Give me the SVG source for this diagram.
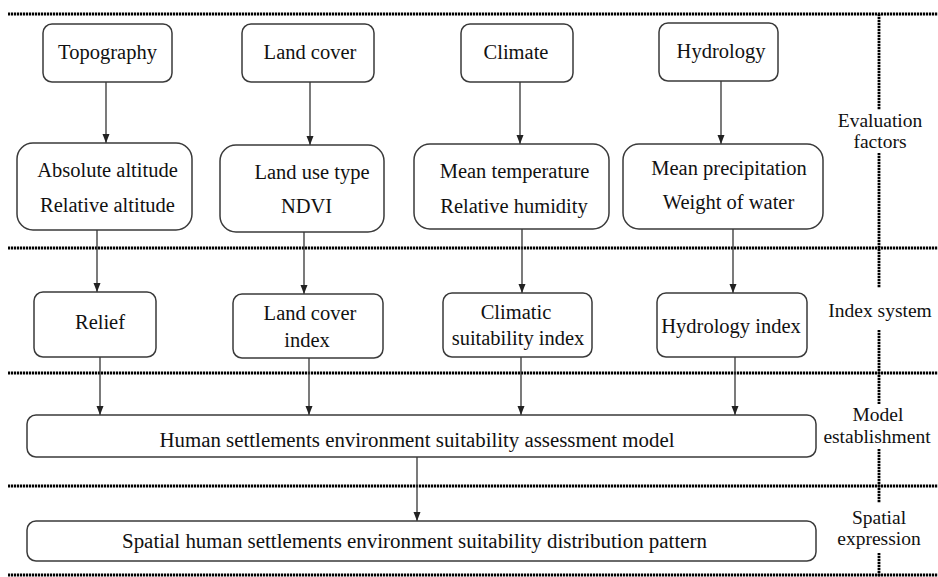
<svg xmlns="http://www.w3.org/2000/svg" width="938" height="577" viewBox="0 0 938 577" font-family="'Liberation Serif', 'Times New Roman', 'DejaVu Serif', serif">
<defs>
<marker id="ah" markerUnits="userSpaceOnUse" markerWidth="10" markerHeight="8" refX="9" refY="3.5" orient="auto">
<path d="M0,0 L9,3.5 L0,7 z" fill="#222"/>
</marker>
<style>
.box{fill:#fff;stroke:#3a3a3a;stroke-width:1.5}
.t{font-family:'Liberation Serif','Times New Roman','DejaVu Serif',serif;font-size:20.5px;fill:#111;text-anchor:middle}
.s{font-size:19.5px}
.dot{stroke:#000;stroke-width:2.8;stroke-dasharray:2.2 0.8;fill:none}
.conn{stroke:#333;stroke-width:1.3;fill:none;marker-end:url(#ah)}
</style>
</defs>
<rect width="938" height="577" fill="#fff"/>
<g id="separators">
<line class="dot" x1="8" y1="14" x2="938" y2="14"/>
<line class="dot" x1="8" y1="248" x2="938" y2="248"/>
<line class="dot" x1="8" y1="373" x2="938" y2="373"/>
<line class="dot" x1="8" y1="486" x2="938" y2="486"/>
<line class="dot" x1="8" y1="575" x2="938" y2="575"/>
<line class="dot" x1="879" y1="14" x2="879" y2="110"/>
<line class="dot" x1="879" y1="153" x2="879" y2="288"/>
<line class="dot" x1="879" y1="330" x2="879" y2="404"/>
<line class="dot" x1="879" y1="449" x2="879" y2="503"/>
<line class="dot" x1="879" y1="553" x2="879" y2="577"/>
</g>
<g id="stage-labels">
<text class="t s" x="880" y="127">Evaluation</text>
<text class="t s" x="880" y="148">factors</text>
<text class="t s" x="880" y="317">Index system</text>
<text class="t s" x="878" y="421">Model</text>
<text class="t s" x="877" y="443">establishment</text>
<text class="t s" x="879" y="524">Spatial</text>
<text class="t s" x="879" y="545">expression</text>
</g>
<g id="connectors">
<line class="conn" x1="106" y1="82" x2="106" y2="143"/>
<line class="conn" x1="310" y1="82" x2="310" y2="145"/>
<line class="conn" x1="520" y1="82" x2="520" y2="144"/>
<line class="conn" x1="721" y1="81" x2="721" y2="144"/>
<line class="conn" x1="97" y1="230" x2="97" y2="292"/>
<line class="conn" x1="304" y1="232" x2="304" y2="294"/>
<line class="conn" x1="522" y1="229" x2="522" y2="293"/>
<line class="conn" x1="733" y1="229" x2="733" y2="293"/>
<line class="conn" x1="100" y1="357" x2="100" y2="415"/>
<line class="conn" x1="309" y1="358" x2="309" y2="415"/>
<line class="conn" x1="521" y1="357" x2="521" y2="415"/>
<line class="conn" x1="735" y1="357" x2="735" y2="415"/>
<line class="conn" x1="417" y1="457" x2="417" y2="521"/>
</g>
<g id="topography">
<rect class="box" x="43" y="24" width="129" height="58" rx="9"/>
<text class="t" x="107.5" y="59">Topography</text>
</g>
<g id="land-cover">
<rect class="box" x="242" y="24" width="132" height="58" rx="9"/>
<text class="t" x="310" y="59">Land cover</text>
</g>
<g id="climate">
<rect class="box" x="461" y="24" width="112" height="58" rx="9"/>
<text class="t" x="516" y="59">Climate</text>
</g>
<g id="hydrology">
<rect class="box" x="659" y="23" width="119" height="58" rx="9"/>
<text class="t" x="721" y="58">Hydrology</text>
</g>
<g id="altitude">
<rect class="box" x="17" y="143" width="175" height="87" rx="16"/>
<text class="t" x="107.5" y="177">Absolute altitude</text>
<text class="t" x="107.5" y="212">Relative altitude</text>
</g>
<g id="land-use">
<rect class="box" x="220" y="145" width="164" height="87" rx="16"/>
<text class="t" x="312" y="179">Land use type</text>
<text class="t" x="306.5" y="213">NDVI</text>
</g>
<g id="temperature">
<rect class="box" x="414" y="144" width="195" height="85" rx="16"/>
<text class="t" x="514.5" y="178">Mean temperature</text>
<text class="t" x="514" y="213">Relative humidity</text>
</g>
<g id="precipitation">
<rect class="box" x="623" y="144" width="200" height="85" rx="16"/>
<text class="t" x="729" y="175">Mean precipitation</text>
<text class="t" x="728.5" y="209">Weight of water</text>
</g>
<g id="relief">
<rect class="box" x="34" y="292" width="122" height="65" rx="9"/>
<text class="t" x="100" y="329">Relief</text>
</g>
<g id="land-cover-index">
<rect class="box" x="233" y="294" width="150" height="64" rx="9"/>
<text class="t" x="310" y="320">Land cover</text>
<text class="t" x="307" y="347">index</text>
</g>
<g id="climatic-index">
<rect class="box" x="443" y="293" width="149" height="64" rx="9"/>
<text class="t" x="516" y="319">Climatic</text>
<text class="t" x="518" y="345">suitability index</text>
</g>
<g id="hydrology-index">
<rect class="box" x="657" y="293" width="150" height="64" rx="9"/>
<text class="t" x="731" y="333">Hydrology index</text>
</g>
<g id="model">
<rect class="box" x="27" y="415" width="789" height="42" rx="9"/>
<text class="t" x="417" y="447" textLength="515" lengthAdjust="spacingAndGlyphs">Human settlements environment suitability assessment model</text>
</g>
<g id="spatial">
<rect class="box" x="27" y="521" width="789" height="40" rx="9"/>
<text class="t" x="414.5" y="548" textLength="585" lengthAdjust="spacingAndGlyphs">Spatial human settlements environment suitability distribution pattern</text>
</g>
</svg>
